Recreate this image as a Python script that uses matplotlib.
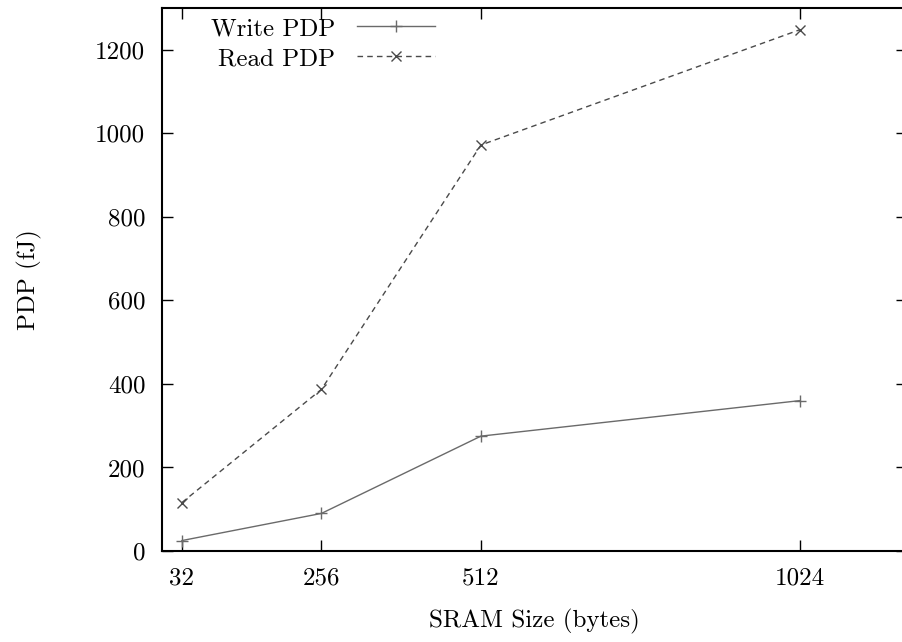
import matplotlib
matplotlib.use('Agg')
import matplotlib.pyplot as plt

# SRAM size (bytes) and power-delay product (fJ)
sizes = [32, 256, 512, 1024]
write_pdp = [25, 90, 275, 360]
read_pdp = [116, 387, 972, 1248]
y_ticks = [0, 200, 400, 600, 800, 1000, 1200]

plt.rcParams['font.family'] = ['cmr10', 'DejaVu Serif']
plt.rcParams['mathtext.fontset'] = 'cm'
plt.rcParams['axes.formatter.use_mathtext'] = True

W, H = 902, 642
fig = plt.figure(figsize=(W / 100, H / 100), dpi=100)
# axes box in pixels: left 162, right ~907 (right border falls off the canvas), top 8, bottom 551
ax = fig.add_axes([162 / W, (H - 551) / H, (907 - 162) / W, (551 - 8) / H])

ax.plot(sizes, write_pdp, color='#6a6a6a', linewidth=1.0, marker='+',
        markersize=8, markeredgewidth=1.0, label='Write PDP')
ax.plot(sizes, read_pdp, color='#4a4a4a', linewidth=1.0, linestyle=(0, (4, 3)),
        marker='x', markersize=7, markeredgewidth=1.0, label='Read PDP')

ax.set_xlim(0, 1196)
ax.set_ylim(0, 1300)
ax.set_xticks(sizes)
ax.set_xticklabels([str(s) for s in sizes])
ax.set_yticks(y_ticks)
ax.set_yticklabels([str(v) for v in y_ticks])

ax.tick_params(direction='in', length=8, width=1.0, top=True, right=True,
               labelsize=18, pad=12)
for s in ax.spines.values():
    s.set_linewidth(1.5)

ax.set_xlabel('SRAM Size (bytes)', fontsize=18, labelpad=14)
ax.set_ylabel('PDP (fJ)', fontsize=18, labelpad=38)

leg = ax.legend(loc='upper left', bbox_to_anchor=(0.045, 1.01), frameon=False,
                fontsize=18, markerfirst=False, handlelength=3.1,
                handletextpad=0.9, labelspacing=0.3, borderaxespad=0.2)
for t in leg.get_texts():
    t.set_ha('right')

fig.savefig('out.png', dpi=100)
